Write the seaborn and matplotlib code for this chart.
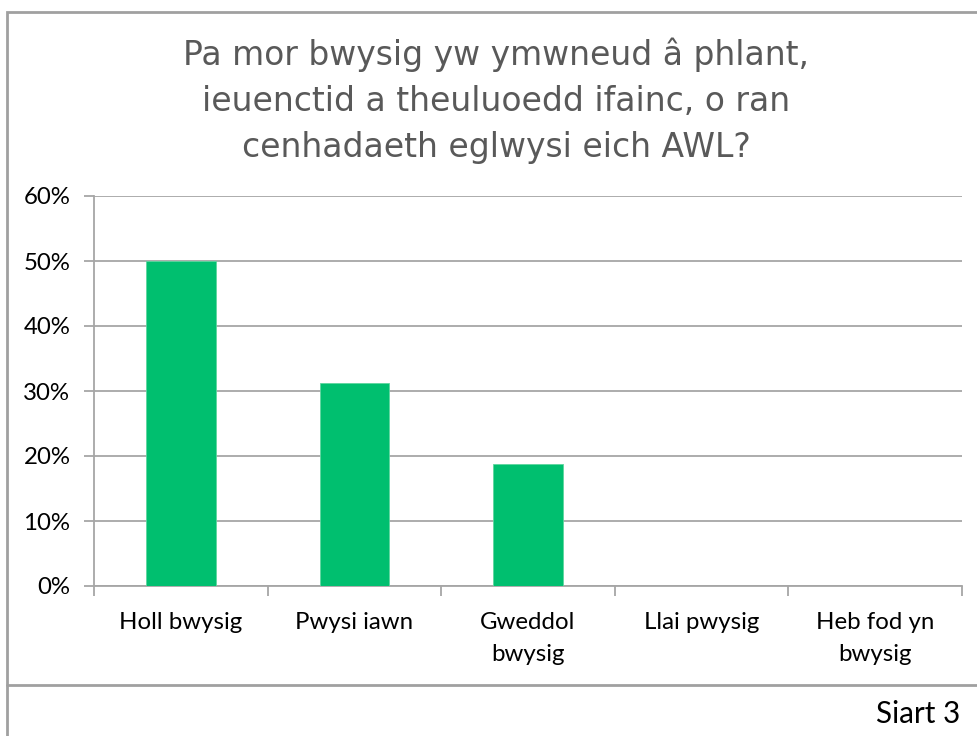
import numpy as np
import pandas as pd
import matplotlib
matplotlib.use('Agg')
import matplotlib.pyplot as plt
import seaborn as sns
from matplotlib.patches import Rectangle
from matplotlib.lines import Line2D

categories = ['Holl bwysig', 'Pwysi iawn', 'Gweddol\nbwysig', 'Llai pwysig', 'Heb fod yn\nbwysig']
shares = [50.0, 31.25, 18.75, 0.0, 0.0]
yticks = [0, 10, 20, 30, 40, 50, 60]
title = 'Pa mor bwysig yw ymwneud â phlant,\nieuenctid a theuluoedd ifainc, o ran\ncenhadaeth eglwysi eich AWL?'
footer = 'Siart 3'

sns.set_theme(style='white')
plt.rcParams['font.family'] = ['Lato', 'DejaVu Sans']

df = pd.DataFrame({'category': categories, 'share': shares})

W, H = 977, 736
fig = plt.figure(figsize=(W / 100, H / 100), dpi=100)
ax = fig.add_axes([94 / W, 1 - 586 / H, (962 - 94) / W, (586 - 196) / H])

sns.barplot(data=df, x='category', y='share', color='#00BF6F', width=0.4,
            edgecolor='#5ED69F', linewidth=0.6, saturation=1, ax=ax, zorder=3)

grey = '#A6A6A6'
ax.set_ylim(0, 60)
ax.set_xlim(-0.5, len(categories) - 0.5)
ax.set_yticks(yticks)
ax.set_yticklabels([f'{t}%' for t in yticks], fontsize=17.3, color='black')
ax.yaxis.grid(True, color=grey, linewidth=1.3, zorder=0)
ax.set_xticks(np.arange(len(categories) + 1) - 0.5, minor=True)
ax.set_xticks(np.arange(len(categories)))
ax.set_xticklabels(categories, fontsize=17.3, color='black', linespacing=1.6)
ax.tick_params(axis='x', which='major', length=0, pad=19)
ax.tick_params(axis='x', which='minor', length=7, color=grey, width=1.3, bottom=True)
ax.tick_params(axis='y', length=7, color=grey, width=1.3, left=True, pad=10)
ax.set_xlabel('')
ax.set_ylabel('')
for side in ['top', 'right']:
    ax.spines[side].set_visible(False)
for side in ['left', 'bottom']:
    ax.spines[side].set_color(grey)
    ax.spines[side].set_linewidth(1.3)

fig.text(0.508, 1 - 101 / H, title, ha='center', va='center', fontsize=23.8,
         color='#595959', family='DejaVu Sans', linespacing=1.5)

fig.patches.append(Rectangle((7 / W, -0.1), 1.1, 1 - 12 / H + 0.1, transform=fig.transFigure,
                             fill=False, edgecolor='#A0A0A0', linewidth=2))
fig.lines.append(Line2D([7 / W, 1], [1 - 685 / H] * 2, transform=fig.transFigure,
                        color='#A0A0A0', linewidth=2))
fig.text(960 / W, 1 - 714 / H, footer, ha='right', va='center', fontsize=21.3, color='black')

fig.savefig('out.png', dpi=100)
